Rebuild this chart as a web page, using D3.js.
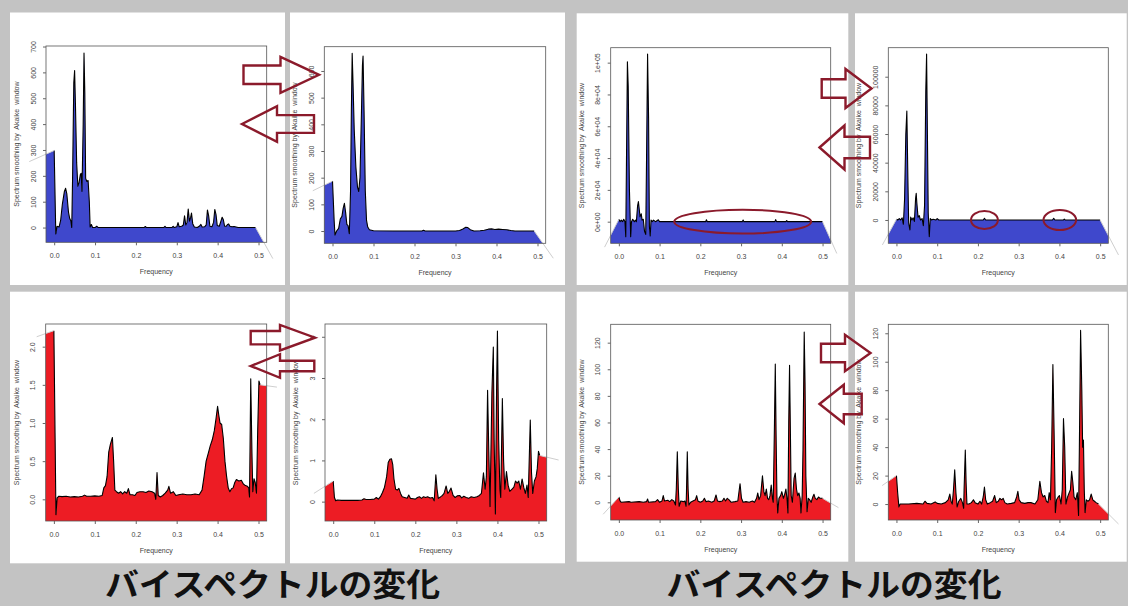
<!DOCTYPE html>
<html><head><meta charset="utf-8">
<script src="https://cdn.jsdelivr.net/npm/d3@7"></script>
<style>body{margin:0;background:#c3c3c3;} svg{display:block} text{white-space:pre}</style>
</head><body>
<svg id="c" width="1128" height="606"></svg>
<script>
// ---------------- data ----------------
const freqTicks = [0, 0.1, 0.2, 0.3, 0.4, 0.5];
const freqTickLabels = ["0.0", "0.1", "0.2", "0.3", "0.4", "0.5"];
const title = "バイスペクトルの変化";
const yTitle = "Spectrum smoothing by  Akaike  window";
const xTitle = "Frequency";

const yTicks1 = [0, 100, 200, 300, 400, 500, 600, 700];
const yTicks2 = [0, 100, 200, 300, 400, 500, 600];
const yTicks3 = [0, 20000, 40000, 60000, 80000, 100000];
const yTickLabels3 = ["0e+00", "2e+04", "4e+04", "6e+04", "8e+04", "1e+05"];
const yTicks4 = [0, 20000, 40000, 60000, 80000, 100000];
const yTicks5 = [0, 0.5, 1.0, 1.5, 2.0];
const yTickLabels5 = ["0.0", "0.5", "1.0", "1.5", "2.0"];
const yTicks6 = [0, 1, 2, 3, 4];
const yTicks7 = [0, 20, 40, 60, 80, 100, 120];
const yTicks8 = [0, 20, 40, 60, 80, 100, 120];

// [frequency, spectrum]; first and last pairs are the stray edge segments of the plot
const spec1 = [[-0.061,255],[0.000,298],[0.004,-25],[0.007,5],[0.012,2],[0.016,30],[0.020,90],[0.025,140],[0.028,152],[0.031,130],[0.035,60],[0.038,35],[0.041,25],[0.043,0],[0.045,190],[0.048,560],[0.050,607],[0.052,480],[0.055,250],[0.058,160],[0.061,175],[0.064,205],[0.066,210],[0.068,140],[0.071,400],[0.073,675],[0.075,520],[0.077,190],[0.080,178],[0.083,182],[0.086,100],[0.088,2],[0.091,12],[0.094,0],[0.100,0],[0.104,5],[0.108,0],[0.220,0],[0.223,4],[0.226,0],[0.268,0],[0.271,5],[0.274,0],[0.288,0],[0.291,5],[0.294,0],[0.300,3],[0.303,19],[0.306,3],[0.312,5],[0.316,10],[0.319,45],[0.322,10],[0.325,20],[0.328,72],[0.331,25],[0.334,40],[0.336,56],[0.339,15],[0.343,2],[0.350,0],[0.355,5],[0.359,12],[0.362,2],[0.368,3],[0.372,10],[0.375,68],[0.378,45],[0.381,5],[0.386,3],[0.390,20],[0.393,70],[0.396,50],[0.399,8],[0.404,5],[0.408,25],[0.411,40],[0.414,30],[0.417,5],[0.421,5],[0.424,12],[0.427,14],[0.430,5],[0.435,3],[0.440,4],[0.445,2],[0.450,0],[0.493,0],[0.535,-120]];
const spec2 = [[-0.048,151],[0.000,187],[0.004,40],[0.006,-15],[0.010,0],[0.015,10],[0.019,45],[0.023,55],[0.026,85],[0.029,104],[0.032,70],[0.035,25],[0.038,20],[0.041,-10],[0.044,150],[0.046,450],[0.048,666],[0.050,560],[0.053,380],[0.057,240],[0.061,165],[0.064,148],[0.067,200],[0.070,400],[0.073,620],[0.0745,656],[0.077,450],[0.080,150],[0.083,40],[0.086,15],[0.090,5],[0.100,1],[0.150,0],[0.218,0],[0.222,3],[0.226,0],[0.300,0],[0.310,2],[0.318,8],[0.325,14],[0.330,13],[0.336,5],[0.345,0],[0.360,1],[0.370,3],[0.380,7],[0.388,8],[0.396,6],[0.405,7],[0.415,6],[0.425,5],[0.435,2],[0.445,0],[0.492,0],[0.5385,-102]];
const spec3 = [[-0.035,-16000],[0.000,1500],[0.003,0],[0.006,1000],[0.009,0],[0.012,1500],[0.015,0],[0.017,-9400],[0.0195,60000],[0.021,100600],[0.023,85000],[0.026,20000],[0.029,-9400],[0.031,0],[0.034,1500],[0.038,0],[0.041,1000],[0.043,0],[0.046,10000],[0.048,12600],[0.050,8000],[0.052,3000],[0.055,5000],[0.057,1000],[0.060,1500],[0.063,-6000],[0.066,-8000],[0.068,40000],[0.0705,105400],[0.073,65000],[0.075,-3000],[0.077,-9000],[0.079,1000],[0.082,0],[0.085,1000],[0.090,0],[0.097,1200],[0.100,0],[0.213,0],[0.215,1200],[0.217,0],[0.303,0],[0.305,1000],[0.307,0],[0.383,0],[0.385,1300],[0.387,0],[0.410,0],[0.412,700],[0.414,0],[0.500,0],[0.535,-20000]];
const spec4 = [[-0.0345,-17400],[0.000,500],[0.003,0],[0.007,1000],[0.010,0],[0.014,1500],[0.017,-3000],[0.020,15000],[0.023,60000],[0.0255,76000],[0.028,30000],[0.030,-2000],[0.033,-7000],[0.035,2000],[0.038,0],[0.041,1500],[0.044,-1000],[0.047,15000],[0.0485,18600],[0.050,12000],[0.053,2000],[0.056,3000],[0.059,0],[0.063,1000],[0.066,-4000],[0.069,10000],[0.072,90000],[0.074,115800],[0.076,60000],[0.078,5000],[0.0806,-11600],[0.083,1000],[0.086,0],[0.090,500],[0.097,0],[0.100,1000],[0.104,0],[0.213,0],[0.216,1200],[0.219,0],[0.383,0],[0.386,1200],[0.389,0],[0.410,0],[0.412,600],[0.414,0],[0.500,0],[0.545,-24400]];
const spec5 = [[-0.042,2.13],[0.000,2.21],[0.003,0.8],[0.005,-0.20],[0.008,0.02],[0.012,0.04],[0.020,0.035],[0.030,0.04],[0.040,0.03],[0.050,0.035],[0.060,0.03],[0.070,0.04],[0.075,0.055],[0.080,0.04],[0.090,0.04],[0.100,0.045],[0.110,0.04],[0.118,0.05],[0.122,0.15],[0.126,0.18],[0.130,0.3],[0.134,0.62],[0.138,0.72],[0.143,0.81],[0.146,0.5],[0.149,0.12],[0.153,0.1],[0.158,0.08],[0.163,0.1],[0.168,0.07],[0.173,0.1],[0.178,0.08],[0.182,0.14],[0.186,0.06],[0.192,0.06],[0.198,0.05],[0.203,0.09],[0.210,0.1],[0.218,0.1],[0.225,0.09],[0.232,0.11],[0.240,0.1],[0.246,0.08],[0.249,0.0],[0.252,0.35],[0.255,0.05],[0.260,0.03],[0.266,0.05],[0.272,0.08],[0.278,0.12],[0.281,0.17],[0.285,0.08],[0.292,0.1],[0.298,0.05],[0.305,0.06],[0.315,0.07],[0.325,0.06],[0.335,0.06],[0.345,0.07],[0.355,0.06],[0.362,0.12],[0.367,0.3],[0.372,0.5],[0.377,0.6],[0.382,0.7],[0.387,0.78],[0.392,0.9],[0.396,1.05],[0.400,1.22],[0.403,1.1],[0.406,1.0],[0.410,0.98],[0.414,0.8],[0.418,0.5],[0.422,0.3],[0.426,0.15],[0.430,0.1],[0.434,0.14],[0.438,0.15],[0.442,0.22],[0.446,0.26],[0.452,0.24],[0.458,0.25],[0.463,0.2],[0.468,0.18],[0.473,0.17],[0.476,0.15],[0.478,0.03],[0.481,1.58],[0.484,0.6],[0.486,0.1],[0.489,0.27],[0.492,0.22],[0.495,0.08],[0.498,0.9],[0.501,1.55],[0.504,1.5],[0.545,1.47]];
const spec6 = [[-0.047,0.20],[0.000,0.5],[0.003,0.1],[0.006,0.02],[0.010,0.04],[0.020,0.03],[0.030,0.035],[0.040,0.03],[0.050,0.03],[0.060,0.03],[0.070,0.04],[0.075,0.07],[0.080,0.05],[0.090,0.05],[0.100,0.06],[0.105,0.1],[0.110,0.06],[0.115,0.12],[0.120,0.22],[0.125,0.35],[0.130,0.6],[0.134,0.95],[0.138,1.03],[0.142,1.04],[0.145,0.9],[0.148,0.55],[0.152,0.3],[0.156,0.28],[0.160,0.32],[0.164,0.2],[0.168,0.12],[0.174,0.1],[0.180,0.08],[0.184,0.16],[0.188,0.08],[0.195,0.07],[0.200,0.06],[0.205,0.1],[0.210,0.12],[0.215,0.08],[0.220,0.12],[0.225,0.1],[0.230,0.12],[0.236,0.09],[0.242,0.1],[0.246,0.02],[0.250,0.65],[0.253,0.3],[0.256,0.08],[0.262,0.12],[0.266,0.15],[0.270,0.2],[0.275,0.38],[0.279,0.2],[0.283,0.25],[0.287,0.33],[0.292,0.15],[0.297,0.1],[0.302,0.14],[0.308,0.15],[0.313,0.09],[0.318,0.13],[0.324,0.1],[0.330,0.08],[0.336,0.12],[0.343,0.1],[0.350,0.12],[0.356,0.15],[0.361,0.2],[0.366,0.7],[0.370,0.3],[0.373,0.6],[0.376,2.7],[0.379,1.2],[0.382,-0.12],[0.3865,2.65],[0.390,3.75],[0.392,1.5],[0.395,-0.3],[0.398,2.8],[0.400,4.14],[0.403,1.5],[0.406,0.3],[0.408,0.1],[0.412,2.5],[0.415,1.0],[0.418,0.3],[0.422,0.73],[0.426,0.4],[0.430,0.25],[0.435,0.3],[0.440,0.35],[0.444,0.5],[0.448,0.45],[0.452,0.5],[0.456,0.3],[0.460,0.55],[0.464,0.35],[0.468,0.2],[0.472,0.4],[0.475,0.1],[0.480,1.98],[0.483,0.7],[0.486,0.2],[0.490,0.5],[0.494,0.6],[0.497,0.8],[0.500,1.22],[0.503,1.12],[0.549,1.01]];
const spec7 = [[-0.0385,-9],[0.000,4],[0.003,1],[0.006,0],[0.025,0.5],[0.030,0],[0.050,0.5],[0.060,0],[0.068,0.5],[0.0705,2.5],[0.073,0],[0.090,0.5],[0.095,2],[0.100,0],[0.106,1],[0.109,5],[0.112,1],[0.120,1.5],[0.125,0.5],[0.130,2],[0.135,1],[0.139,-2],[0.141,10],[0.1435,38],[0.146,10],[0.148,-3],[0.152,1],[0.158,0.5],[0.162,1],[0.165,-3],[0.166,8],[0.168,38],[0.170,10],[0.172,-2],[0.176,0],[0.182,1],[0.188,2],[0.191,5],[0.194,1],[0.200,0],[0.206,1],[0.210,3],[0.214,0.5],[0.220,1],[0.228,0],[0.234,1],[0.2385,5.5],[0.242,1],[0.248,0.5],[0.254,1],[0.258,3],[0.262,1],[0.266,3],[0.270,2],[0.276,0],[0.285,0.5],[0.292,1],[0.2975,14],[0.301,3],[0.305,0],[0.312,0.5],[0.320,0],[0.328,1],[0.333,0],[0.338,3],[0.341,7],[0.344,2],[0.348,5],[0.3525,20],[0.356,8],[0.359,5],[0.362,10],[0.365,3],[0.368,2],[0.371,5],[0.374,13],[0.377,3],[0.379,0],[0.382,60],[0.384,104],[0.386,50],[0.388,5],[0.390,-8],[0.393,3],[0.397,5],[0.400,8],[0.404,3],[0.407,6],[0.410,10],[0.413,2],[0.415,-8],[0.417,60],[0.419,103],[0.421,55],[0.423,5],[0.426,0],[0.430,18],[0.433,22],[0.436,10],[0.439,5],[0.442,7],[0.445,3],[0.447,-8],[0.450,5],[0.452,40],[0.455,128],[0.457,90],[0.459,20],[0.462,-7],[0.465,3],[0.468,2],[0.472,0],[0.476,4],[0.479,6],[0.482,3],[0.486,2],[0.490,4],[0.494,3],[0.500,3],[0.539,-4]];
const spec8 = [[-0.035,13],[0.000,20],[0.003,8],[0.006,-2],[0.009,0],[0.030,0],[0.050,0.5],[0.065,0],[0.070,2],[0.075,0.5],[0.085,0],[0.095,1.5],[0.100,0.5],[0.110,0],[0.120,1],[0.127,3],[0.131,7],[0.134,2],[0.137,0],[0.140,10],[0.143,24],[0.146,8],[0.149,-2],[0.153,2],[0.158,4],[0.162,1],[0.165,-3],[0.166,10],[0.169,38],[0.171,15],[0.173,0],[0.178,0],[0.184,1],[0.189,3],[0.193,1],[0.200,0],[0.205,2],[0.209,0],[0.213,5],[0.216,12],[0.219,3],[0.223,0],[0.230,1],[0.236,2],[0.241,6],[0.245,1],[0.250,2],[0.254,4],[0.258,3],[0.262,4],[0.266,1],[0.272,0],[0.282,0.5],[0.290,1],[0.295,5],[0.298,9],[0.301,3],[0.306,1],[0.315,0.5],[0.323,1],[0.330,1],[0.340,0],[0.347,3],[0.352,16],[0.356,8],[0.360,5],[0.364,6],[0.368,2],[0.372,1],[0.375,8],[0.378,3],[0.381,40],[0.384,98],[0.387,50],[0.390,-6],[0.393,3],[0.397,5],[0.400,6],[0.404,0],[0.407,10],[0.410,60],[0.413,40],[0.416,0],[0.420,5],[0.424,8],[0.427,10],[0.430,23],[0.433,15],[0.436,5],[0.440,3],[0.444,8],[0.447,-8],[0.449,40],[0.452,122],[0.455,80],[0.457,40],[0.459,45],[0.461,10],[0.463,-6],[0.466,3],[0.470,2],[0.474,3],[0.478,7],[0.482,3],[0.486,2],[0.490,1],[0.496,0],[0.545,-14]];

// highlighted regions (frequency centre, value centre, half-width in frequency, half-height in value)
const marks3 = [[0.304, 0, 0.168, 7500]];
const marks4 = [[0.216, 0, 0.033, 6300], [0.401, 0, 0.040, 7000]];

// ---------------- layout ----------------
const BLUE = "#3f48cc", RED = "#ed1c24", DARK = "#8b1a2b";
const xDomain = [-0.02, 0.52];
const panels = [
  {spec: spec1, ticks: yTicks1, labels: null, yd: [-57, 702], fill: BLUE, frame: [10, 12.5, 285, 285], box: [46, 46, 266.7, 242.3]},
  {spec: spec2, ticks: yTicks2, labels: null, yd: [-46, 691], fill: BLUE, frame: [290, 12.5, 565, 285], box: [324.3, 46.7, 545.7, 243.3]},
  {spec: spec3, ticks: yTicks3, labels: yTickLabels3, yd: [-13600, 109400], fill: BLUE, frame: [576.7, 13.3, 848.3, 285], box: [610.7, 47.7, 830.7, 243.3], marks: marks3},
  {spec: spec4, ticks: yTicks4, labels: null, yd: [-16280, 120250], fill: BLUE, frame: [855, 13.3, 1126.7, 285], box: [888.3, 47.7, 1108.3, 243.3], marks: marks4},
  {spec: spec5, ticks: yTicks5, labels: yTickLabels5, yd: [-0.284, 2.297], fill: RED, frame: [10, 291.7, 285, 563.3], box: [45.7, 324, 266.7, 521]},
  {spec: spec6, ticks: yTicks6, labels: null, yd: [-0.47, 4.31], fill: RED, frame: [290, 291.7, 565, 563.3], box: [325, 324, 546.7, 521]},
  {spec: spec7, ticks: yTicks7, labels: null, yd: [-13.3, 133.8], fill: RED, frame: [576.7, 291.7, 848.3, 561.7], box: [610.7, 324.3, 830.7, 520]},
  {spec: spec8, ticks: yTicks8, labels: null, yd: [-11.2, 126.3], fill: RED, frame: [855, 291.7, 1126.7, 561.7], box: [888.3, 324.3, 1108.3, 520]}
];

const svg = d3.select("#c");
svg.append("rect").attr("width", 1128).attr("height", 606).attr("fill", "#c3c3c3");
const defs = svg.append("defs");
const FONT = "'Liberation Sans', Arial, sans-serif";
const TXT = "#444";

const overlays = [];

panels.forEach((p, i) => {
  const [fx0, fy0, fx1, fy1] = p.frame;
  const [bx0, by0, bx1, by1] = p.box;
  svg.append("rect").attr("x", fx0).attr("y", fy0).attr("width", fx1 - fx0).attr("height", fy1 - fy0).attr("fill", "#fff");

  const x = d3.scaleLinear().domain(xDomain).range([bx0, bx1]);
  const y = d3.scaleLinear().domain(p.yd).range([by1, by0]);

  defs.append("clipPath").attr("id", "clip" + i)
    .append("rect").attr("x", bx0).attr("y", by0).attr("width", bx1 - bx0).attr("height", by1 - by0);

  const g = svg.append("g");
  const area = d3.area().x(d => x(d[0])).y0(by1 + 2).y1(d => y(d[1]));
  g.append("path").datum(p.spec).attr("d", area).attr("fill", p.fill).attr("clip-path", `url(#clip${i})`);

  const line = d3.line().x(d => x(d[0])).y(d => y(d[1]));
  const inner = p.spec.slice(1, p.spec.length - 1);
  g.append("path").datum(inner).attr("d", line).attr("fill", "none").attr("stroke", "#000")
    .attr("stroke-width", 1.1).attr("stroke-linejoin", "round").attr("clip-path", `url(#clip${i})`);

  // stray edge segments
  const n = p.spec.length;
  [[p.spec[0], p.spec[1]], [p.spec[n - 2], p.spec[n - 1]]].forEach(seg => {
    g.append("path").datum(seg).attr("d", line).attr("fill", "none").attr("stroke", "#cfcfcf").attr("stroke-width", 1);
  });

  // box
  g.append("rect").attr("x", bx0).attr("y", by0).attr("width", bx1 - bx0).attr("height", by1 - by0)
    .attr("fill", "none").attr("stroke", "#555").attr("stroke-width", 0.8);

  // x axis
  const xa = d3.axisBottom(x).tickValues(freqTicks).tickSize(3).tickFormat((d, k) => freqTickLabels[k]);
  const gx = g.append("g").attr("transform", `translate(0,${by1})`).call(xa);
  gx.select(".domain").remove();
  gx.selectAll("line").attr("stroke", "#666");
  gx.selectAll("text").attr("font-family", FONT).attr("font-size", 7).attr("fill", TXT).attr("y", 11);

  // y axis
  const ya = d3.axisLeft(y).tickValues(p.ticks).tickSize(3)
    .tickFormat((d, k) => p.labels ? p.labels[k] : String(d));
  const gy = g.append("g").attr("transform", `translate(${bx0},0)`).call(ya);
  gy.select(".domain").remove();
  gy.selectAll("line").attr("stroke", "#666");
  gy.selectAll("text").attr("font-family", FONT).attr("font-size", 7).attr("fill", TXT)
    .attr("x", null).attr("dy", null).attr("text-anchor", "middle")
    .attr("transform", "translate(-10.5,0) rotate(-90)");

  // titles
  g.append("text").attr("x", (bx0 + bx1) / 2).attr("y", by1 + 31.5).attr("text-anchor", "middle")
    .attr("font-family", FONT).attr("font-size", 7).attr("fill", TXT).text(xTitle);
  g.append("text").attr("transform", `translate(${bx0 - 27},${(by0 + by1) / 2}) rotate(-90)`)
    .attr("text-anchor", "middle").attr("font-family", FONT).attr("font-size", 7).attr("fill", TXT).text(yTitle);

  if (p.marks) overlays.push({x, y, marks: p.marks});
});

// highlight ellipses
overlays.forEach(o => {
  svg.selectAll(null).data(o.marks).enter().append("ellipse")
    .attr("cx", d => o.x(d[0])).attr("cy", d => o.y(d[1]))
    .attr("rx", d => o.x(d[0] + d[2]) - o.x(d[0])).attr("ry", d => o.y(d[1]) - o.y(d[1] + d[3]))
    .attr("fill", "none").attr("stroke", DARK).attr("stroke-width", 2);
});

// outline arrows between panels (pixel layout)
function rightArrow(x0, xHead, tipX, cy, shaftH, headH) {
  return [[x0, cy - shaftH / 2], [xHead, cy - shaftH / 2], [xHead, cy - headH / 2], [tipX, cy],
          [xHead, cy + headH / 2], [xHead, cy + shaftH / 2], [x0, cy + shaftH / 2]];
}
function leftArrow(tipX, xHead, x1, cy, shaftH, headH) {
  return [[tipX, cy], [xHead, cy - headH / 2], [xHead, cy - shaftH / 2], [x1, cy - shaftH / 2],
          [x1, cy + shaftH / 2], [xHead, cy + shaftH / 2], [xHead, cy + headH / 2]];
}
const arrows = [
  rightArrow(243.5, 280.5, 319, 74.8, 18.5, 36),
  leftArrow(242, 277, 314, 124, 17.8, 35.5),
  rightArrow(821.7, 845.5, 871.5, 88.5, 18.5, 39),
  leftArrow(819.5, 844.5, 870, 147.5, 21.6, 44),
  rightArrow(250.7, 280, 315, 337.7, 13.3, 25.5),
  leftArrow(250.7, 280, 314.3, 366, 10.5, 23.5),
  rightArrow(821, 845, 870.5, 353, 18.5, 36.5),
  leftArrow(819.5, 843.8, 861.7, 404, 20.5, 38.5)
];
svg.selectAll(null).data(arrows).enter().append("polygon")
  .attr("points", d => d.map(q => q.join(",")).join(" "))
  .attr("fill", "none").attr("stroke", DARK).attr("stroke-width", 2.4).attr("stroke-linejoin", "miter");

// bottom captions
[272.5, 834].forEach(cx => {
  svg.append("text").attr("x", cx).attr("y", 596).attr("text-anchor", "middle")
    .attr("font-family", "'Noto Sans CJK JP', sans-serif").attr("font-weight", 700).attr("font-size", 32)
    .attr("textLength", 335).attr("lengthAdjust", "spacingAndGlyphs").attr("fill", "#111").text(title);
});
</script>
</body></html>
